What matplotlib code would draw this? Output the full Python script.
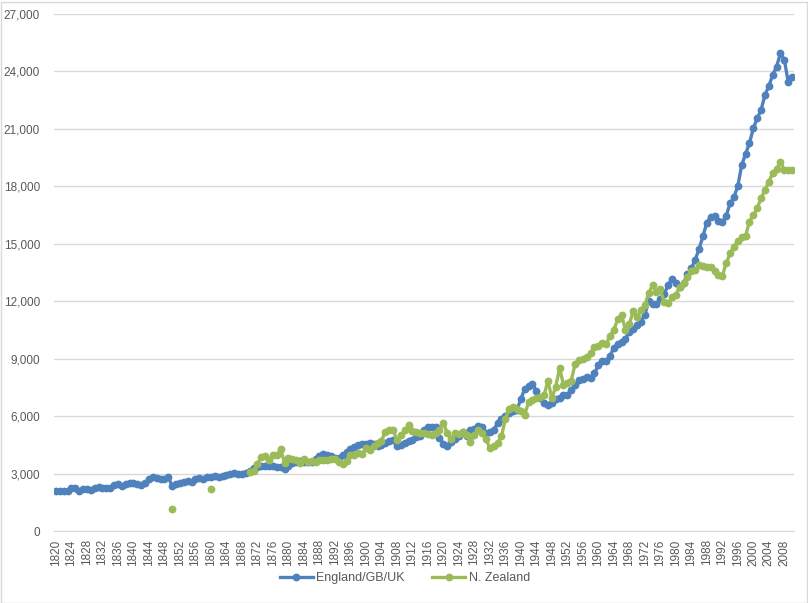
import numpy as np
import pandas as pd
import matplotlib
matplotlib.use("Agg")
import matplotlib.pyplot as plt
from matplotlib.patches import Rectangle

# GDP per capita, England/GB/UK, 1820-2010
uk_start = 1820
uk_values = [
    2090, 2080, 2090, 2110, 2220, 2230, 2090, 2200, 2180, 2140,
    2230, 2280, 2260, 2250, 2270, 2400, 2460, 2360, 2470, 2500,
    2500, 2430, 2390, 2520, 2720, 2800, 2760, 2700, 2740, 2800,
    2370, 2460, 2500, 2580, 2620, 2560, 2700, 2750, 2690, 2800,
    2830, 2860, 2840, 2880, 2910, 2970, 3010, 2960, 3000, 3040,
    3120, 3270, 3320, 3390, 3400, 3410, 3390, 3360, 3350, 3230,
    3420, 3530, 3600, 3650, 3620, 3580, 3590, 3740, 3900, 4030,
    3990, 3920, 3800, 3790, 3950, 4100, 4270, 4380, 4480, 4560,
    4550, 4580, 4530, 4450, 4470, 4600, 4720, 4750, 4440, 4500,
    4600, 4680, 4750, 4920, 4940, 5270, 5410, 5450, 5430, 4880,
    4550, 4430, 4650, 4780, 4960, 5150, 4950, 5300, 5340, 5500,
    5440, 5140, 5150, 5270, 5650, 5850, 6020, 6180, 6280, 6330,
    6900, 7420, 7550, 7700, 7300, 6930, 6700, 6580, 6700, 6880,
    6940, 7120, 7090, 7350, 7620, 7870, 7930, 8020, 7970, 8240,
    8650, 8860, 8870, 9150, 9570, 9750, 9890, 10050, 10410, 10550,
    10770, 10940, 11290, 12020, 11860, 11850, 12120, 12380, 12830, 13170,
    12930, 12750, 12950, 13400, 13710, 14160, 14740, 15390, 16110, 16410,
    16430, 16170, 16130, 16450, 17120, 17430, 18020, 19110, 19690, 20250,
    21030, 21550, 21990, 22770, 23240, 23810, 24250, 24950, 24600, 23470,
    23730,
]

# New Zealand: two early benchmark years, then annual from 1870
nz_early_years = [1850, 1860]
nz_early_values = [1130, 2175]
nz_start = 1870
nz_values = [
    3100, 3150, 3480, 3880, 3900, 3700, 3970, 3950, 4300, 3550,
    3790, 3760, 3700, 3530, 3740, 3620, 3640, 3620, 3690, 3720,
    3710, 3780, 3750, 3600, 3500, 3650, 3970, 3990, 4060, 4020,
    4320, 4250, 4450, 4580, 4700, 5180, 5280, 5300, 4760, 5000,
    5250, 5530, 5200, 5150, 5100, 5120, 5050, 5000, 5100, 5250,
    5660, 5100, 4800, 5130, 5050, 5180, 5000, 4670, 5000, 5280,
    5100, 4800, 4320, 4450, 4600, 4950, 5850, 6350, 6450, 6350,
    6250, 6060, 6750, 6850, 6930, 7000, 7100, 7850, 6930, 7540,
    8500, 7650, 7720, 7850, 8720, 8930, 9000, 9100, 9300, 9590,
    9660, 9800, 9750, 10190, 10500, 11060, 11280, 10500, 10800, 11500,
    11150, 11550, 11800, 12410, 12850, 12500, 12620, 11950, 11900, 12200,
    12330, 12760, 12950, 13250, 13600, 13630, 13890, 13840, 13780, 13790,
    13600, 13350, 13330, 13980, 14500, 14850, 15160, 15340, 15410, 16160,
    16500, 16850, 17380, 17810, 18240, 18680, 18890, 19290, 18860, 18860,
    18860,
]

y_ticks = list(range(0, 27001, 3000))

years = list(range(uk_start, uk_start + len(uk_values)))
uk = pd.Series(uk_values, index=years)
nz = pd.Series(nz_values, index=range(nz_start, nz_start + len(nz_values)))
nz = pd.concat([pd.Series(nz_early_values, index=nz_early_years), nz])
nz = nz.reindex(years)

blue = "#4F81BD"
green = "#9BBB59"
text_col = "#595959"
grid_col = "#D9D9D9"

plt.rcParams["font.family"] = ["Liberation Sans", "DejaVu Sans"]

fig = plt.figure(figsize=(8.08, 6.03), dpi=100)
ax = fig.add_axes([54 / 808, 72 / 603, 740 / 808, 517 / 603])

pos = np.arange(len(years))
ax.plot(pos, uk.values, color=blue, lw=2.4, marker="o", ms=4.6,
        label="England/GB/UK", zorder=3)
ax.plot(pos, nz.values, color=green, lw=2.4, marker="o", ms=4.6,
        label="N. Zealand", zorder=4)

ax.set_xlim(-0.5, len(years) - 0.5)
ax.set_ylim(0, 27000)
ax.set_yticks(y_ticks)
ax.set_yticklabels([f"{v:,}" for v in y_ticks])
ax.yaxis.grid(True, color=grid_col, lw=1)
ax.set_axisbelow(True)

tick_years = [y for y in years if (y - uk_start) % 4 == 0]
ax.set_xticks([years.index(y) for y in tick_years])
ax.set_xticklabels([str(y) for y in tick_years], rotation=90)

ax.tick_params(axis="both", length=0, colors=text_col, labelsize=8.5)
ax.tick_params(axis="x", pad=6)
ax.tick_params(axis="y", pad=10)
for side in ["left", "right", "top"]:
    ax.spines[side].set_visible(False)
ax.spines["bottom"].set_color(grid_col)

leg = fig.legend(loc="center", bbox_to_anchor=(405 / 808, 1 - 578 / 603),
                 ncol=2, frameon=False, fontsize=9, handlelength=2.6,
                 columnspacing=2.2, handletextpad=0.3)
for t in leg.get_texts():
    t.set_color(text_col)

fig.patches.append(Rectangle((0.5 / 808, 0.5 / 603), 806 / 808, 601 / 603,
                             transform=fig.transFigure, fill=False,
                             edgecolor=grid_col, lw=1))

fig.savefig("out.png", dpi=100)
